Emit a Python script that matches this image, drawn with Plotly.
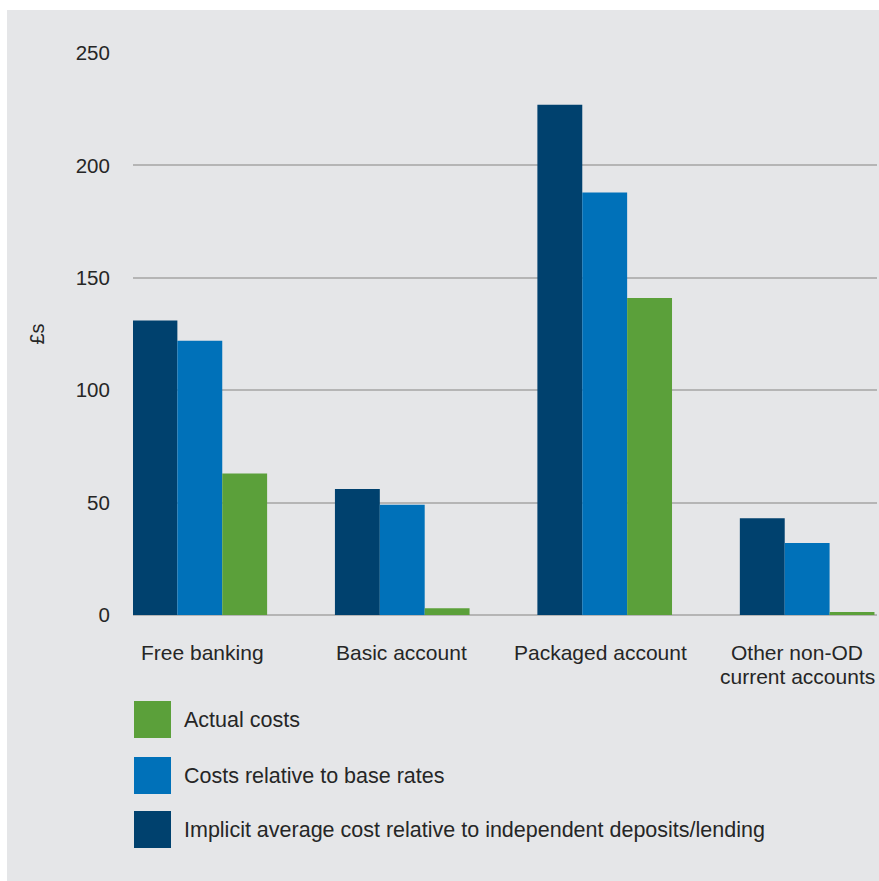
import plotly.graph_objects as go

categories = ["Free banking", "Basic account", "Packaged account", "Other non-OD<br>current accounts"]
implicit_cost = [131, 56, 227, 43]
base_rate_cost = [122, 49, 188, 32]
actual_cost = [63, 3, 141, 1.3]
series_names = ["Implicit average cost relative to independent deposits/lending",
                "Costs relative to base rates", "Actual costs"]
series_colors = ["#00416e", "#0071b9", "#5ba03a"]
y_ticks = [0, 50, 100, 150, 200, 250]

W, H = 879, 881
L, R, T, B = 133, 2, 53, 266
pw, ph = W - L - R, H - T - B
FONT = "Liberation Sans"
TXT = "#262626"
label_xshift = [3, -1, -4, -10]

fig = go.Figure()
for name, vals, col in zip(series_names, [implicit_cost, base_rate_cost, actual_cost], series_colors):
    fig.add_trace(go.Bar(x=categories, y=vals, name=name, marker=dict(color=col, line=dict(width=0)),
                         showlegend=False))

def px_x(x):
    return (x - L) / pw

def px_y(y):
    return (H - B - y) / ph

shapes = [dict(type="rect", xref="paper", yref="paper", x0=px_x(7), x1=px_x(W + 5),
               y0=px_y(H + 5), y1=px_y(10), fillcolor="#e5e6e8", line=dict(width=0), layer="below")]
annotations = []
# category labels (placed on the category axis)
for cat, xs in zip(categories, label_xshift):
    for i, line in enumerate(cat.split("<br>")):
        annotations.append(dict(xref="x", yref="paper", x=cat, y=0, text=line, showarrow=False,
                                xanchor="center", yanchor="middle", xshift=xs, yshift=-37 - 24 * i,
                                font=dict(family=FONT, size=21, color=TXT)))
legend_rows = [(701, 738, 2), (757, 794, 1), (811, 848, 0)]
for y0, y1, idx in legend_rows:
    shapes.append(dict(type="rect", xref="paper", yref="paper", x0=px_x(134), x1=px_x(171),
                       y0=px_y(y1), y1=px_y(y0), fillcolor=series_colors[idx], line=dict(width=0)))
    annotations.append(dict(xref="paper", yref="paper", x=px_x(182), y=px_y((y0 + y1) / 2),
                            text=series_names[idx], showarrow=False, xanchor="left", yanchor="middle",
                            font=dict(family=FONT, size=21.5, color=TXT)))

fig.update_layout(
    width=W, height=H,
    margin=dict(l=L, r=R, t=T, b=B, pad=0, autoexpand=False),
    paper_bgcolor="white",
    plot_bgcolor="rgba(0,0,0,0)",
    barmode="group", bargap=0.335, bargroupgap=0,
    font=dict(family=FONT, size=20, color=TXT),
    shapes=shapes, annotations=annotations,
    xaxis=dict(range=[-0.33, 3.345], showgrid=False, showticklabels=False, ticks="",
               showline=False, zeroline=False, automargin=False),
    yaxis=dict(range=[0, 250], tickvals=y_ticks, showgrid=True, gridcolor="#b5b5b5", gridwidth=1.5,
               zeroline=True, zerolinecolor="#b5b5b5", zerolinewidth=1.5,
               ticks="outside", ticklen=18, tickcolor="rgba(0,0,0,0)",
               tickfont=dict(size=20.5, color=TXT), automargin=False,
               title=dict(text="£s", font=dict(size=20, color=TXT), standoff=25)),
)

fig.write_html("out.html")
